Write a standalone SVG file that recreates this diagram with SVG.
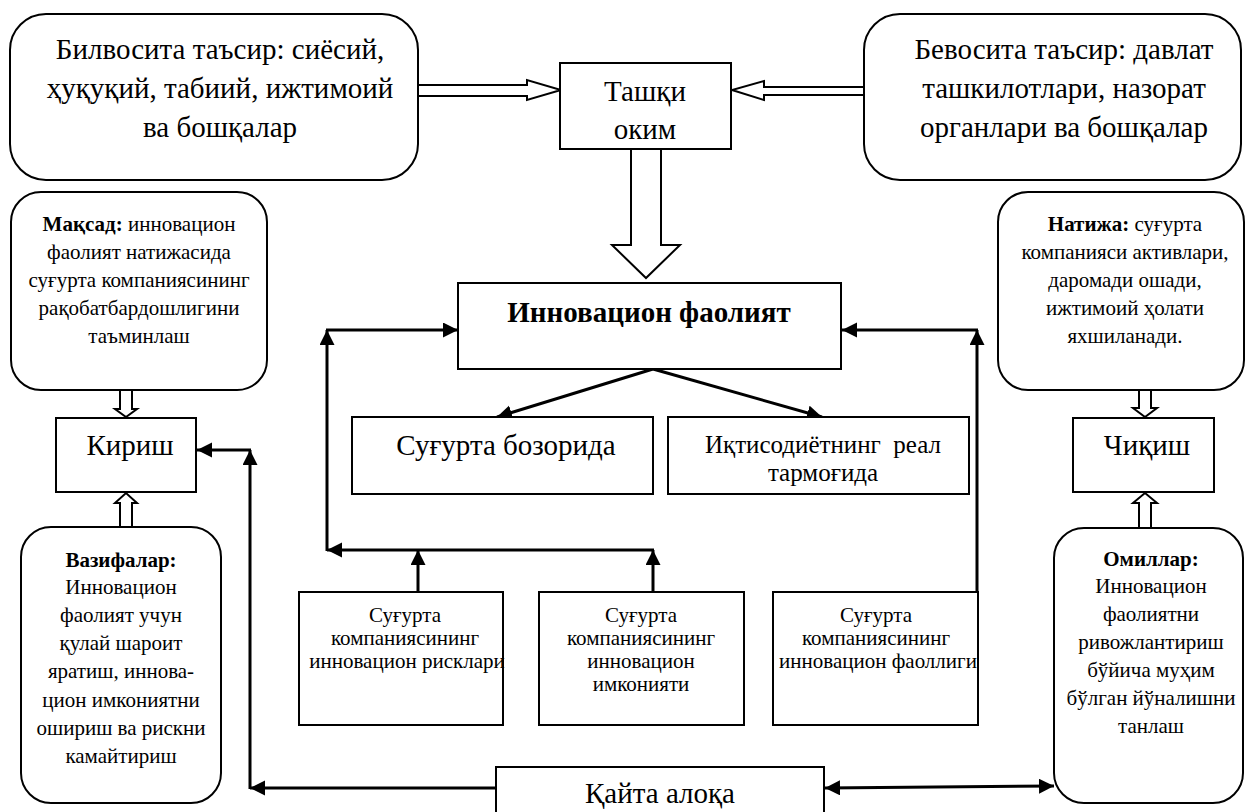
<svg xmlns="http://www.w3.org/2000/svg" width="1246" height="812" viewBox="0 0 1246 812" font-family="'Liberation Serif', 'Times New Roman', 'DejaVu Serif', serif">
<defs>
<style>
text{fill:#000;text-anchor:middle}
.box{fill:#fff;stroke:#000;stroke-width:2}
.hol{fill:#fff;stroke:#000;stroke-width:2;stroke-linejoin:miter}
.ln{fill:none;stroke:#000;stroke-width:3;marker-end:url(#ah)}
.t26{font-size:29px}
.t20{font-size:21px}
.t18{font-size:21px}
.t22{font-size:25px}
.b{font-weight:bold}
</style>
<marker id="ah" markerUnits="userSpaceOnUse" markerWidth="16" markerHeight="16" refX="15" refY="7.5" orient="auto-start-reverse" viewBox="0 0 16 16">
<path d="M0,0 L15,7.5 L0,15 z" fill="#000"/>
</marker>
</defs>
<rect width="1246" height="812" fill="#fff"/>

<g id="connectors">
<polygon class="hol" points="418,85 527,85 527,80 561,90 527,100 527,96 418,96"/>
<polygon class="hol" points="864,87 764,87 764,81 732,90 764,100 764,95 864,95"/>
<polygon class="hol" points="631,149 661,149 661,245 680,245 646,278 612,245 631,245"/>
<polygon class="hol" points="120,390 132,390 132,409 137,409 126,417 115,409 120,409"/>
<polygon class="hol" points="120,527 132,527 132,503 137,503 126,493 115,503 120,503"/>
<polygon class="hol" points="1139,390 1151,390 1151,408 1157,408 1145,417 1133,408 1139,408"/>
<polygon class="hol" points="1139,528 1151,528 1151,503 1157,503 1145,493 1133,503 1139,503"/>
<line class="ln" x1="653" y1="369" x2="497" y2="417"/>
<line class="ln" x1="653" y1="369" x2="822" y2="417"/>
<line class="ln" x1="418" y1="592" x2="418" y2="550"/>
<line class="ln" x1="653" y1="592" x2="653" y2="550"/>
<line class="ln" x1="654" y1="550" x2="327" y2="550"/>
<line class="ln" x1="327" y1="551" x2="327" y2="330"/>
<line class="ln" x1="326" y1="330" x2="458" y2="330"/>
<line class="ln" x1="977" y1="592" x2="977" y2="330"/>
<line class="ln" x1="978" y1="330" x2="842" y2="330"/>
<line class="ln" x1="496" y1="788" x2="250" y2="788"/>
<line class="ln" x1="250" y1="789" x2="250" y2="450"/>
<line class="ln" x1="251" y1="450" x2="197" y2="450"/>
<path class="ln" d="M1054,786 L825,788" style="marker-start:url(#ah)"/>
</g>

<g id="n-bilvosita">
<rect class="box" x="10" y="14" width="408" height="166" rx="36"/>
<text class="t26" x="220" y="59">Билвосита таъсир: сиёсий,</text>
<text class="t26" x="220" y="98">ҳуқуқий, табиий, ижтимоий</text>
<text class="t26" x="220" y="137">ва бошқалар</text>
</g>

<g id="n-tashqi">
<rect class="box" x="560" y="63" width="171" height="86"/>
<text class="t26" x="645" y="101">Ташқи</text>
<text class="t26" x="645" y="139">оким</text>
</g>

<g id="n-bevosita">
<rect class="box" x="864" y="14" width="377" height="166" rx="36"/>
<text class="t26" x="1064" y="59">Бевосита таъсир: давлат</text>
<text class="t26" x="1064" y="98">ташкилотлари, назорат</text>
<text class="t26" x="1064" y="137">органлари ва бошқалар</text>
</g>

<g id="n-maqsad">
<rect class="box" x="11" y="192" width="256" height="198" rx="30"/>
<text class="t20" x="139" y="231"><tspan class="b">Мақсад:</tspan> инновацион</text>
<text class="t20" x="139" y="259">фаолият натижасида</text>
<text class="t20" x="139" y="287">суғурта компаниясининг</text>
<text class="t20" x="139" y="315">рақобатбардошлигини</text>
<text class="t20" x="139" y="343">таъминлаш</text>
</g>

<g id="n-natija">
<rect class="box" x="998" y="192" width="246" height="198" rx="30"/>
<text class="t20" x="1125" y="231"><tspan class="b">Натижа:</tspan> суғурта</text>
<text class="t20" x="1125" y="259">компанияси активлари,</text>
<text class="t20" x="1125" y="287">даромади ошади,</text>
<text class="t20" x="1125" y="315">ижтимоий ҳолати</text>
<text class="t20" x="1125" y="343">яхшиланади.</text>
</g>

<g id="n-innovatsion">
<rect class="box" x="458" y="283" width="383" height="86"/>
<text class="t26 b" x="649" y="322">Инновацион фаолият</text>
</g>

<g id="n-bozor">
<rect class="box" x="352" y="417" width="301" height="77"/>
<text class="t26" x="506" y="455">Суғурта бозорида</text>
</g>

<g id="n-real">
<rect class="box" x="668" y="417" width="301" height="77"/>
<text class="t22" style="white-space:pre" x="823" y="453">Иқтисодиётнинг  реал</text>
<text class="t22" x="823" y="481">тармоғида</text>
</g>

<g id="n-kirish">
<rect class="box" x="56" y="418" width="140" height="74"/>
<text class="t26" x="130" y="455">Кириш</text>
</g>

<g id="n-chiqish">
<rect class="box" x="1073" y="418" width="141" height="74"/>
<text class="t26" x="1147" y="455">Чиқиш</text>
</g>

<g id="n-vazifalar">
<rect class="box" x="21" y="527" width="200" height="276" rx="30"/>
<text class="t20 b" x="121" y="567">Вазифалар:</text>
<text class="t20" x="121" y="594">Инновацион</text>
<text class="t20" x="121" y="622">фаолият учун</text>
<text class="t20" x="121" y="650">қулай шароит</text>
<text class="t20" x="121" y="678">яратиш, иннова-</text>
<text class="t20" x="121" y="707">цион имкониятни</text>
<text class="t20" x="121" y="735">ошириш ва рискни</text>
<text class="t20" x="121" y="763">камайтириш</text>
</g>

<g id="n-omillar">
<rect class="box" x="1054" y="528" width="189" height="275" rx="30"/>
<text class="t20 b" x="1151" y="566">Омиллар:</text>
<text class="t20" x="1151" y="593">Инновацион</text>
<text class="t20" x="1151" y="621">фаолиятни</text>
<text class="t20" x="1151" y="649">ривожлантириш</text>
<text class="t20" x="1151" y="677">бўйича муҳим</text>
<text class="t20" x="1151" y="705">бўлган йўналишни</text>
<text class="t20" x="1151" y="733">танлаш</text>
</g>

<g id="n-risk">
<rect class="box" x="299" y="592" width="204" height="133"/>
<text class="t18" x="405" y="622">Суғурта</text>
<text class="t18" x="405" y="645">компаниясининг</text>
<text class="t18" x="407" y="668">инновацион рисклари</text>
</g>

<g id="n-imkon">
<rect class="box" x="539" y="592" width="205" height="133"/>
<text class="t18" x="641" y="622">Суғурта</text>
<text class="t18" x="641" y="645">компаниясининг</text>
<text class="t18" x="641" y="668">инновацион</text>
<text class="t18" x="641" y="691">имконияти</text>
</g>

<g id="n-faollik">
<rect class="box" x="773" y="592" width="205" height="133"/>
<text class="t18" x="876" y="622">Суғурта</text>
<text class="t18" x="876" y="645">компаниясининг</text>
<text class="t18" x="878" y="668">инновацион фаоллиги</text>
</g>

<g id="n-qayta">
<rect class="box" x="496" y="767" width="328" height="60"/>
<text class="t26" x="660" y="803">Қайта алоқа</text>
</g>
</svg>
